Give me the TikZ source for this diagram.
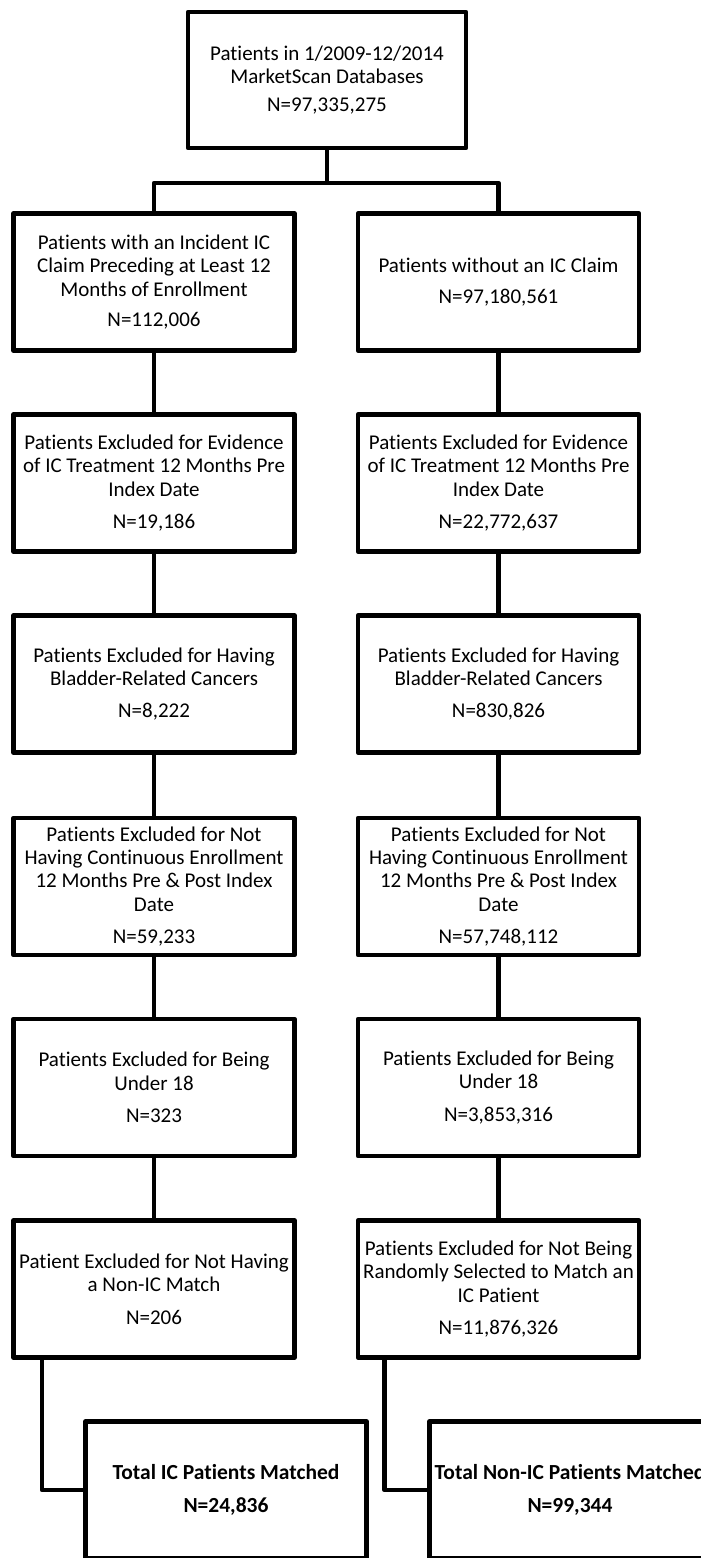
\documentclass[tikz,border=0pt]{standalone}
\usepackage{fontspec}
\setmainfont{Carlito}[Ligatures=NoCommon]
\begin{document}
\begin{tikzpicture}[x=1pt,y=-1pt,
  every node/.style={inner sep=0pt},
  boxnode/.style={draw=black, line width=4.5pt, line join=round, align=center,
    minimum width=281pt, minimum height=137pt,
    font=\fontsize{21}{23.4}\selectfont},
  boldbox/.style={boxnode, font=\fontsize{21.5}{23.4}\selectfont\bfseries},
  conn/.style={draw=black, line width=4.5pt, line join=round}]
\useasboundingbox (0,0) rectangle (701,1558);
\clip (0,0) rectangle (701,1558);

\node[boxnode, minimum width=278pt, minimum height=136pt] (top) at (327,80)
  {Patients in 1/2009-12/2014\\MarketScan Databases\\[4pt]N=97,335,275};

\node[boxnode] (a2) at (154,282)
  {Patients with an Incident IC\\Claim Preceding at Least 12\\Months of Enrollment\\[7pt]N=112,006};
\node[boxnode] (b2) at (498.5,282)
  {Patients without an IC Claim\\[8pt]N=97,180,561};

\node[boxnode] (a3) at (154,483)
  {Patients Excluded for Evidence\\of IC Treatment 12 Months Pre\\Index Date\\[9pt]N=19,186};
\node[boxnode] (b3) at (498.5,483)
  {Patients Excluded for Evidence\\of IC Treatment 12 Months Pre\\Index Date\\[9pt]N=22,772,637};

\node[boxnode] (a4) at (154,684)
  {Patients Excluded for Having\\Bladder-Related Cancers\\[9pt]N=8,222};
\node[boxnode] (b4) at (498.5,684)
  {Patients Excluded for Having\\Bladder-Related Cancers\\[9pt]N=830,826};

\node[boxnode] (a5) at (154,886.5)
  {Patients Excluded for Not\\Having Continuous Enrollment\\12 Months Pre \& Post Index\\Date\\[9pt]N=59,233};
\node[boxnode] (b5) at (498.5,886.5)
  {Patients Excluded for Not\\Having Continuous Enrollment\\12 Months Pre \& Post Index\\Date\\[9pt]N=57,748,112};

\node[boxnode] (a6) at (154,1087.5)
  {Patients Excluded for Being\\Under 18\\[9pt]N=323};
\node[boxnode] (b6) at (498.5,1087.5)
  {Patients Excluded for Being\\Under 18\\[9pt]N=3,853,316};

\node[boxnode] (a7) at (154,1289)
  {Patient Excluded for Not Having\\a Non-IC Match\\[9pt]N=206};
\node[boxnode] (b7) at (498.5,1289)
  {Patients Excluded for Not Being\\Randomly Selected to Match an\\IC Patient\\[9pt]N=11,876,326};

\node[boldbox] (a8) at (226,1490)
  {Total IC Patients Matched\\[10pt]N=24,836};
\node[boldbox] (b8) at (570,1490)
  {Total Non-IC Patients Matched\\[10pt]N=99,344};

\coordinate (j) at (327,183);
\path[conn] (top.south) -- (j);
\path[conn] (a2.north) |- (j) -| (b2.north);
\path[conn] (a2.south) -- (a3.north);
\path[conn] (b2.south) -- (b3.north);
\path[conn] (a3.south) -- (a4.north);
\path[conn] (b3.south) -- (b4.north);
\path[conn] (a4.south) -- (a5.north);
\path[conn] (b4.south) -- (b5.north);
\path[conn] (a5.south) -- (a6.north);
\path[conn] (b5.south) -- (b6.north);
\path[conn] (a6.south) -- (a7.north);
\path[conn] (b6.south) -- (b7.north);
\path[conn] ([xshift=-112pt]a7.south) |- (a8.west);
\path[conn] ([xshift=-114pt]b7.south) |- (b8.west);
\end{tikzpicture}
\end{document}
